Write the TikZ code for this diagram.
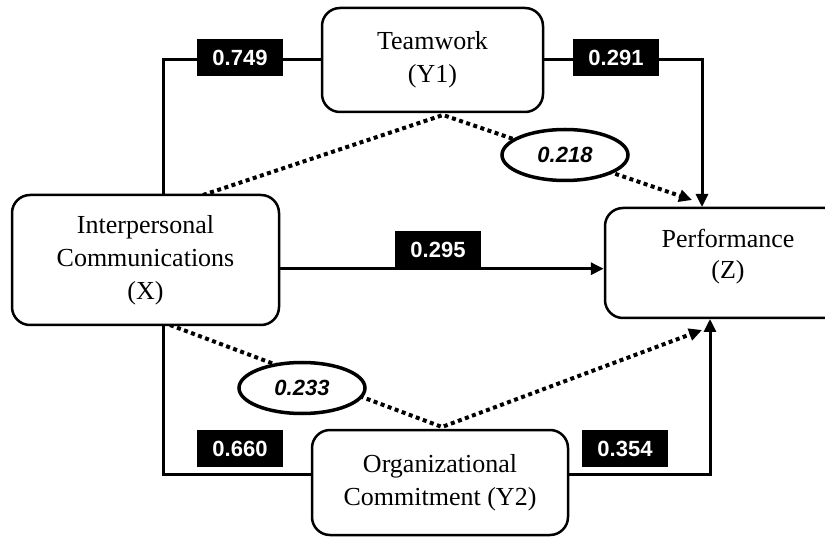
\documentclass[tikz,border=0pt]{standalone}
\usepackage{fontspec}
\setmainfont{Liberation Serif}
\newfontfamily\numfont{Liberation Sans}
\usetikzlibrary{arrows.meta,shapes.geometric,backgrounds}
\begin{document}
\begin{tikzpicture}[x=1pt,y=-1pt,
  box/.style={draw,line width=2.5pt,rounded corners=18pt,fill=white,align=center,
    font=\fontsize{26}{33}\selectfont,inner sep=0pt},
  boxtext/.style={align=center,font=\fontsize{26}{31}\selectfont,inner sep=0pt},
  coef/.style={fill=black,text=white,font=\numfont\bfseries\fontsize{22}{22}\selectfont,
    minimum width=86pt,minimum height=37pt,inner sep=0pt},
  ind/.style={ellipse,draw,line width=3.5pt,fill=white,
    font=\numfont\bfseries\itshape\fontsize{22}{22}\selectfont,
    minimum width=126pt,minimum height=51pt,inner sep=0pt},
  link/.style={line width=3pt},
  dots/.style={line width=4pt,dash pattern=on 4pt off 3.5pt},
  arrowend/.style={-{Triangle[length=13pt,width=12pt]}}
]
\useasboundingbox (0,0) rectangle (825,537);
\clip (0,0) rectangle (825,537);

% main boxes
\node[box,minimum width=221pt,minimum height=104pt] (T) at (432.5,60) {Teamwork\\(Y1)};
\node[box,minimum width=267pt,minimum height=130pt] (X) at (145.5,260) {Interpersonal\\Communications\\(X)};
\node[box,minimum width=246pt,minimum height=110pt] (Z) at (728,263) {};
\node[boxtext] (Zt) at (728,257) {Performance\\(Z)};
\node[box,minimum width=256pt,minimum height=105pt] (O) at (440,482.5) {Organizational\\Commitment (Y2)};

% coefficient labels
\node[coef] (c1) at (240,57.5) {0.749};
\node[coef] (c2) at (616,57.5) {0.291};
\node[coef] (c3) at (438,250) {0.295};
\node[coef] (c4) at (240,448.5) {0.660};
\node[coef] (c5) at (625,448.5) {0.354};

% indirect effects
\node[ind] (e1) at (565,155) {0.218};
\node[ind] (e2) at (302,388) {0.233};

% connector points
\coordinate (xt) at (163,195);
\coordinate (xb) at (163,325);
\coordinate (zt) at (702,207);
\coordinate (zb) at (710,319);
\coordinate (yb) at (0,474);
\coordinate (d1) at (203,195);
\coordinate (a1) at (443,115);
\coordinate (t1) at (692,200);
\coordinate (d2) at (170,325);
\coordinate (a2) at (442,427);
\coordinate (t2) at (702,330);

\begin{scope}[on background layer]
\draw[link] (T.west) -| (xt);
\draw[link,arrowend] (T.east) -| (zt);
\draw[link,arrowend] (X.east |- c3.south) -- (Z.west |- c3.south);
\draw[link] (xb) |- (O.west |- yb);
\draw[link,arrowend] (O.east |- yb) -| (zb);
\draw[dots,arrowend] (d1) -- (a1) -- (t1);
\draw[dots,arrowend] (d2) -- (a2) -- (t2);
\end{scope}
\end{tikzpicture}
\end{document}
